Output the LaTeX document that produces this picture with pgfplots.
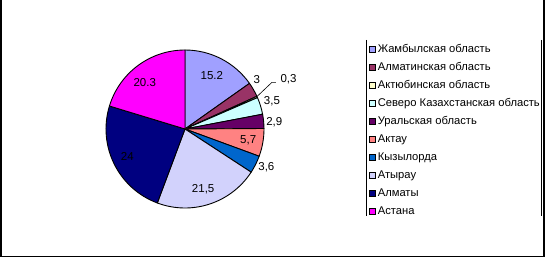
\documentclass[border=0pt]{standalone}
\usepackage{fontspec}
\setmainfont{Liberation Sans}
\usepackage{pgfplots}
\usepackage{pgfplotstable}
\pgfplotsset{compat=1.18}
\definecolor{c1}{HTML}{A0A0FF}
\definecolor{c2}{HTML}{993366}
\definecolor{c3}{HTML}{FFFFCC}
\definecolor{c4}{HTML}{CCFFFF}
\definecolor{c5}{HTML}{660066}
\definecolor{c6}{HTML}{FF8282}
\definecolor{c7}{HTML}{0066CC}
\definecolor{c8}{HTML}{D2D2FC}
\definecolor{c9}{HTML}{000080}
\definecolor{c10}{HTML}{FF00FF}
\pgfplotstableread{
value col
15.2 c1
3    c2
0.3  c3
3.5  c4
2.9  c5
5.7  c6
3.6  c7
21.5 c8
24   c9
20.3 c10
}\piedata
\begin{document}
\begin{tikzpicture}[font=\fontsize{11.5bp}{13bp}\selectfont]
\begin{axis}[
  x=79bp, y=79bp,
  xmin=-1, xmax=1, ymin=-1, ymax=1,
  at={(185bp,129bp)}, anchor=center,
  hide axis, clip=false,
  legend cell align=left,
  legend image code/.code={\draw[#1, draw=black, line width=0.6bp] (0bp,-3bp) rectangle (6bp,3bp);},
  legend style={draw=none, fill=none, at={(axis cs:2.2911,1.0886)}, anchor=north west,
    inner xsep=3bp, inner ysep=0pt, row sep=6bp, column sep=2bp,
    nodes={inner sep=0pt, text height=9bp, text depth=3bp, font=\fontsize{11.2bp}{13bp}\selectfont}},
]
\pgfplotsextra{%
  \gdef\cumang{90}%
  \foreach \i in {0,...,9}{%
    \pgfplotstablegetelem{\i}{value}\of\piedata \pgfmathsetmacro\val{\pgfplotsretval}%
    \pgfplotstablegetelem{\i}{col}\of\piedata \edef\col{\pgfplotsretval}%
    \pgfmathsetmacro\endang{\cumang-3.6*\val}%
    \filldraw[fill=\col, draw=black, line width=0.9bp, line join=round] (axis cs:0,0) -- ++(\cumang:79bp) arc[start angle=\cumang, end angle=\endang, radius=79bp] -- cycle;%
    \xdef\cumang{\endang}%
  }%
}
\draw[line width=0.6bp] (axis cs:0.91,0.41) -- (axis cs:1.10,0.59) -- (axis cs:1.15,0.59);
\node at (axis cs:0.34,0.68) {15.2};
\node at (axis cs:0.91,0.63) {3};
\node at (axis cs:1.31,0.63) {0,3};
\node at (axis cs:1.10,0.35) {3,5};
\node at (axis cs:1.13,0.09) {2,9};
\node at (axis cs:0.80,-0.14) {5,7};
\node at (axis cs:1.03,-0.48) {3,6};
\node at (axis cs:0.23,-0.76) {21,5};
\node at (axis cs:-0.73,-0.35) {24};
\node at (axis cs:-0.51,0.59) {20.3};
\addlegendimage{fill=c1}\addlegendentry{Жамбылская область}
\addlegendimage{fill=c2}\addlegendentry{Алматинская область}
\addlegendimage{fill=c3}\addlegendentry{Актюбинская область}
\addlegendimage{fill=c4}\addlegendentry{Северо Казахстанская область}
\addlegendimage{fill=c5}\addlegendentry{Уральская область}
\addlegendimage{fill=c6}\addlegendentry{Актау}
\addlegendimage{fill=c7}\addlegendentry{Кызылорда}
\addlegendimage{fill=c8}\addlegendentry{Атырау}
\addlegendimage{fill=c9}\addlegendentry{Алматы}
\addlegendimage{fill=c10}\addlegendentry{Астана}
\end{axis}
\draw[line width=1bp] (366bp,218bp) -- (366bp,42bp);
\draw[line width=1bp] (541bp,218bp) -- (541bp,42bp);
\draw[line width=1.5bp] (0.75bp,258bp) -- (0.75bp,1.5bp) -- (544bp,1.5bp) -- (544bp,258bp);
\pgfresetboundingbox
\path[use as bounding box] (0,0) rectangle (546bp,258bp);
\end{tikzpicture}
\end{document}
